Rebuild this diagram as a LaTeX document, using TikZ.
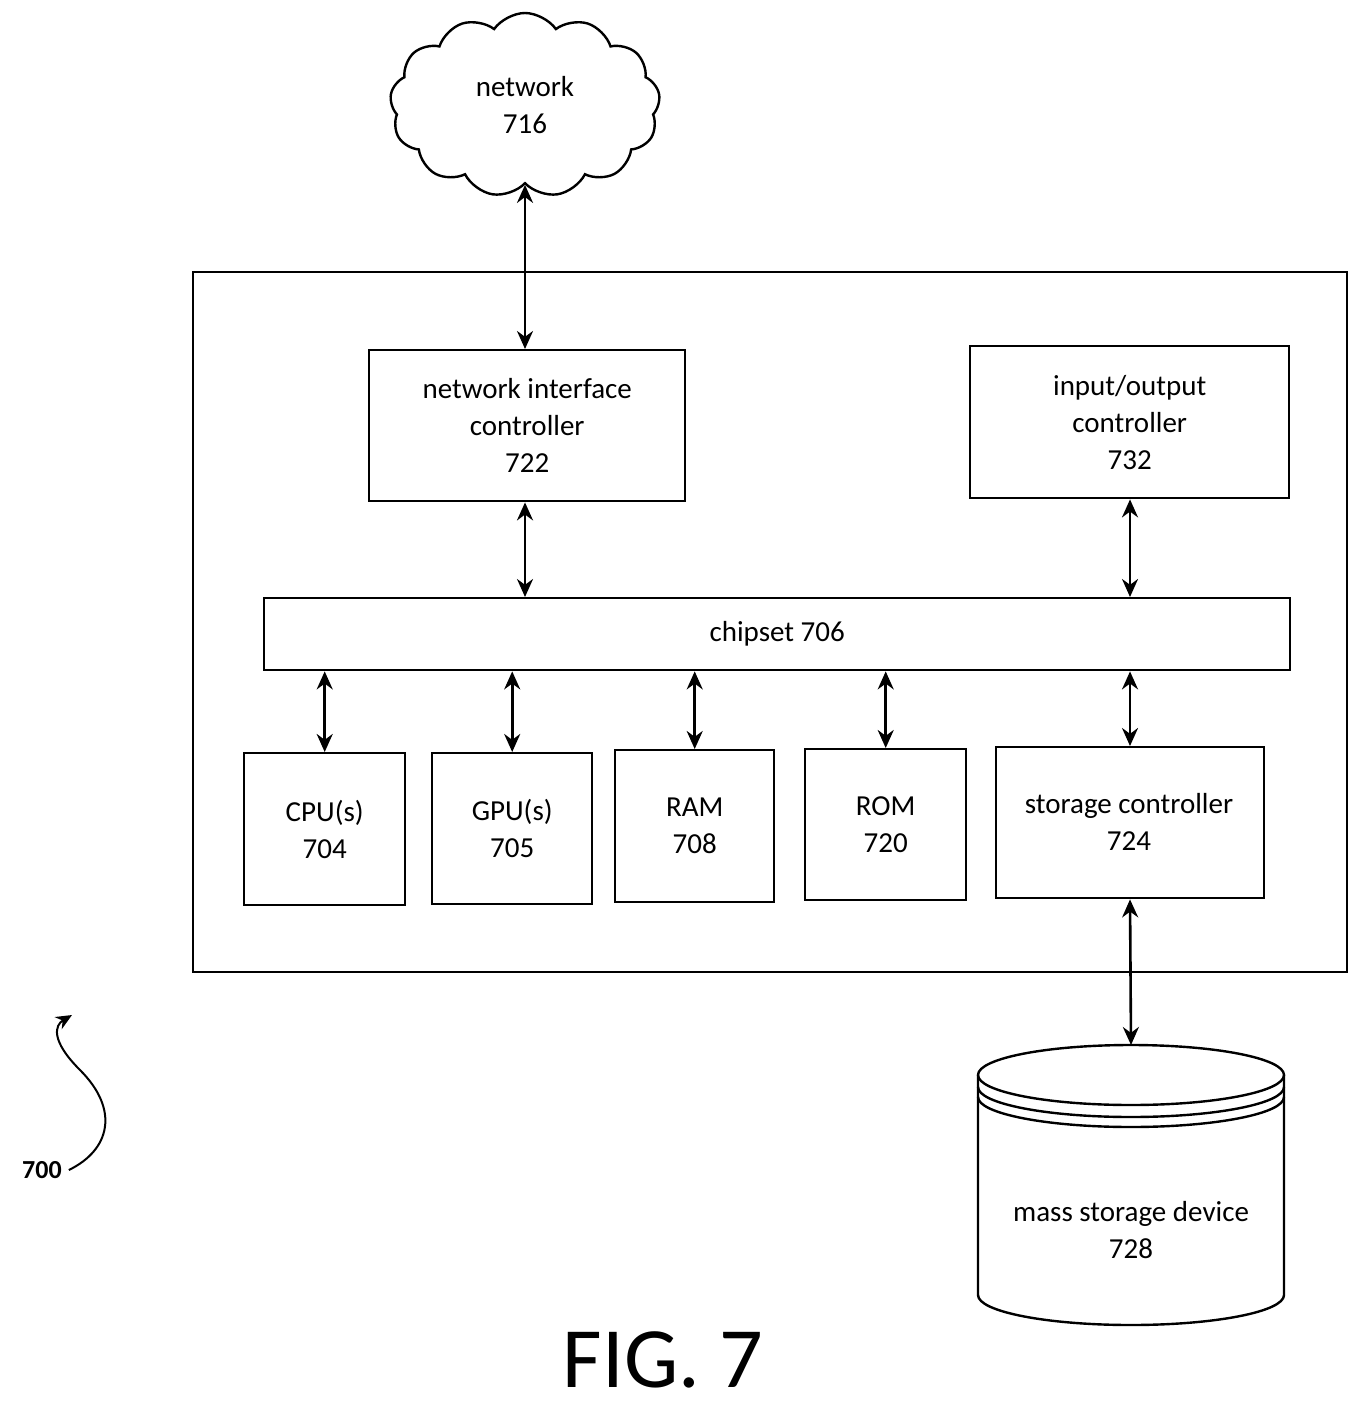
\documentclass[tikz,border=0pt]{standalone}
\usepackage{fontspec}
\setmainfont{Carlito}
\usetikzlibrary{shapes.symbols,arrows.meta}
\begin{document}
\begin{tikzpicture}[x=0.5pt,y=-0.5pt,
  box/.style={draw,line width=1.2pt,anchor=north west,inner sep=0pt,align=center,font=\fontsize{14.5}{18.5}\selectfont},
  lab/.style={align=center,font=\fontsize{14.5}{18.5}\selectfont},
  conn/.style={line width=1.3pt,{Stealth[length=9pt,width=8pt]}-{Stealth[length=9pt,width=8pt]}}]
\useasboundingbox (0,0) rectangle (1369,1416);
\draw[line width=1.2pt] (193,272) rectangle (1347,972);
\node[cloud,draw,line width=1.2pt,cloud puffs=13,cloud puff arc=110,minimum width=135pt,minimum height=92pt,lab] (net) at (525,105) {network\\716};
\node[box,minimum width=158pt,minimum height=75.5pt] (nic) at (368,349) {network interface\\controller\\722};
\node[box,minimum width=159.5pt,minimum height=76pt] (io) at (969,345) {input/output\\controller\\732};
\node[box,minimum width=513pt,minimum height=36pt] (chip) at (263,597) {chipset 706};
\node[box,minimum width=80.5pt,minimum height=76pt] (cpu) at (243,752) {CPU(s)\\704};
\node[box,minimum width=80pt,minimum height=75.5pt] (gpu) at (431,752) {GPU(s)\\705};
\node[box,minimum width=79.5pt,minimum height=76pt] (ram) at (614,749) {RAM\\708};
\node[box,minimum width=80.5pt,minimum height=75.5pt] (rom) at (804,748) {ROM\\720};
\node[box,minimum width=134pt,minimum height=75.5pt,anchor=north west] (sc) at (995,746) {};
\node[lab] at (1129,822) {storage controller\\724};
% cylinder
\draw[line width=1.2pt] (978,1075) -- (978,1295) arc[start angle=180,end angle=360,x radius=76.5pt,y radius=15pt] -- (1284,1075);
\draw[line width=1.2pt] (1131,1075) ellipse[x radius=76.5pt,y radius=15pt];
\draw[line width=1.2pt] (978,1087) arc[start angle=180,end angle=360,x radius=76.5pt,y radius=15pt];
\draw[line width=1.2pt] (978,1097) arc[start angle=180,end angle=360,x radius=76.5pt,y radius=15pt];
\coordinate (msd) at (1131,1045);
\node[lab] (msdl) at (1131,1230) {mass storage device\\728};
% connectors
\draw[conn] (net.south) -- (nic.north -| net.south);
\draw[conn] (nic.south -| 525,0) -- (chip.north -| 525,0);
\draw[conn] (io.south -| 1130,0) -- (chip.north -| 1130,0);
\draw[conn] (chip.south -| cpu.north) -- (cpu.north);
\draw[conn] (chip.south -| gpu.north) -- (gpu.north);
\draw[conn] (chip.south -| ram.north) -- (ram.north);
\draw[conn] (chip.south -| rom.north) -- (rom.north);
\draw[conn] (chip.south -| 1130,0) -- (sc.north -| 1130,0);
\draw[conn] (sc.south -| 1130,0) -- (msd);
% label 700
\node[font=\bfseries\fontsize{13}{15}\selectfont] (l700) at (42,1170) {700};
\draw[line width=1pt,-{Stealth[length=8pt,width=7pt]}] (l700.east) .. controls (110,1150) and (120,1110) .. (80,1070) .. controls (50,1040) and (55,1025) .. (72,1015);
\node[font=\fontsize{43}{50}\selectfont] (fig) at (663,1360) {FIG. 7};
\end{tikzpicture}
\end{document}
